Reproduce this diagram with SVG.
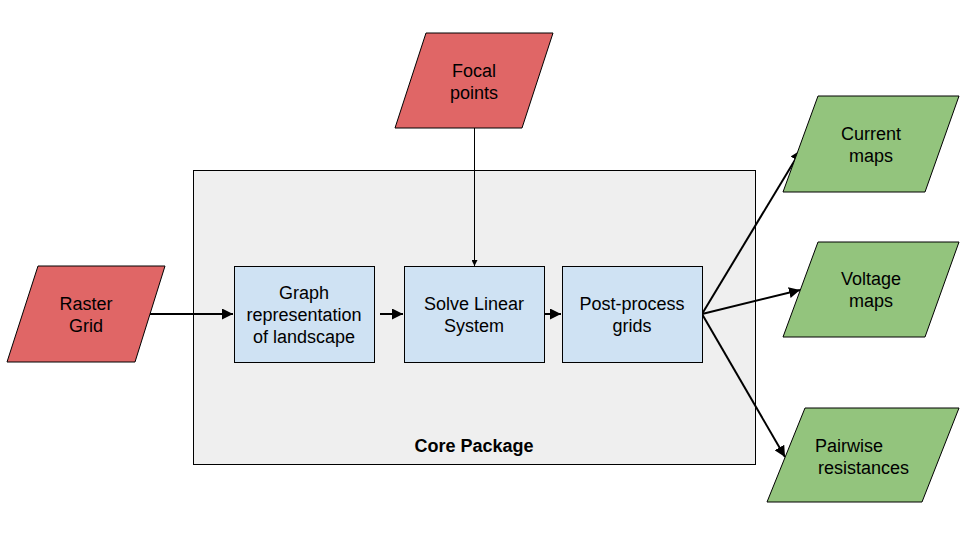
<svg xmlns="http://www.w3.org/2000/svg" width="960" height="540" viewBox="0 0 960 540">
<defs>
<style>
text{font-family:"Liberation Sans",Arial,sans-serif;font-size:18px;fill:#000;text-anchor:middle}
.l{text-anchor:start}
.red{fill:#e06666;stroke:#000;stroke-width:1}
.green{fill:#93c47d;stroke:#000;stroke-width:1}
.blue{fill:#cfe2f3;stroke:#000;stroke-width:1}
.pkg{fill:#efefef;stroke:#000;stroke-width:1}
.c{stroke:#000;stroke-width:2;fill:none;marker-end:url(#ah)}
.thin{stroke:#000;stroke-width:1;fill:none;marker-end:url(#ahs)}
</style>
<marker id="ah" viewBox="0 0 10 10" refX="10" refY="5" markerWidth="5.5" markerHeight="5.5" orient="auto" markerUnits="strokeWidth"><path d="M0,0 L10,5 L0,10 z" fill="#000"/></marker>
<marker id="ahs" viewBox="0 0 10 10" refX="10" refY="5" markerWidth="6" markerHeight="6" orient="auto" markerUnits="strokeWidth"><path d="M0,0 L10,5 L0,10 z" fill="#000"/></marker>
</defs>
<rect width="960" height="540" fill="#fff"/>
<g id="core-package">
<rect class="pkg" x="193.5" y="170.5" width="562" height="294"/>
<text x="474" y="452" font-weight="bold">Core Package</text>
</g>
<g id="connectors">
<line class="c" x1="150" y1="314" x2="233" y2="314"/>
<line class="c" x1="380" y1="314" x2="403" y2="314"/>
<line class="c" x1="544" y1="314" x2="561" y2="314"/>
<line class="thin" x1="474.5" y1="128" x2="474.5" y2="266"/>
<line class="c" x1="702" y1="314" x2="801" y2="150"/>
<line class="c" x1="702" y1="314" x2="800" y2="290"/>
<line class="c" x1="702" y1="314" x2="785" y2="457"/>
</g>
<g id="raster-grid">
<polygon class="red" points="38,266 165,266 135,362 7,362"/>
<text x="86" y="310">Raster</text>
<text x="86" y="332">Grid</text>
</g>
<g id="focal-points">
<polygon class="red" points="426,33 553,33 522,128 395,128"/>
<text x="474" y="77">Focal</text>
<text x="474" y="99">points</text>
</g>
<g id="graph">
<rect class="blue" x="234.5" y="266.5" width="140" height="96"/>
<text x="304" y="299">Graph</text>
<text x="304" y="321">representation</text>
<text x="304" y="343">of landscape</text>
</g>
<g id="solve">
<rect class="blue" x="404.5" y="266.5" width="140" height="96"/>
<text x="474" y="310">Solve Linear</text>
<text x="474" y="332">System</text>
</g>
<g id="post-process">
<rect class="blue" x="562.5" y="266.5" width="140" height="96"/>
<text x="632" y="310">Post-process</text>
<text x="632" y="332">grids</text>
</g>
<g id="current-maps">
<polygon class="green" points="818,96 959,96 925,192 783,192"/>
<text x="871" y="140">Current</text>
<text x="871" y="162">maps</text>
</g>
<g id="voltage-maps">
<polygon class="green" points="818,242 959,242 925,337 783,337"/>
<text x="871" y="285">Voltage</text>
<text x="871" y="307">maps</text>
</g>
<g id="pairwise">
<polygon class="green" points="805,408 959,408 922,502 767,502"/>
<text class="l" x="815" y="452">Pairwise</text>
<text class="l" x="818" y="474">resistances</text>
</g>
</svg>
